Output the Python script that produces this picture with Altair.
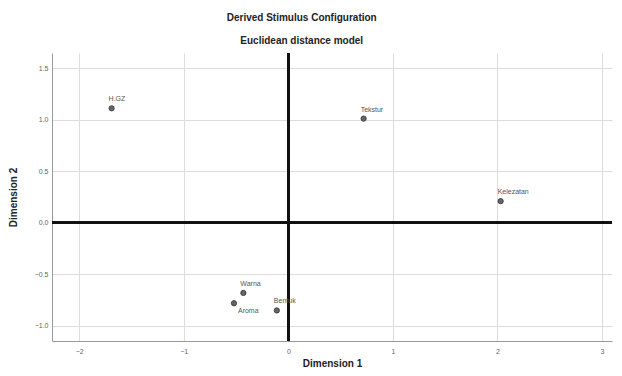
import altair as alt
import pandas as pd

labels = ["H.GZ", "Tekstur", "Kelezatan", "Warna", "Aroma", "Bentuk"]
dim1 = [-1.69, 0.72, 2.03, -0.43, -0.52, -0.11]
dim2 = [1.11, 1.01, 0.21, -0.68, -0.78, -0.85]

x_ticks = [-2, -1, 0, 1, 2, 3]
y_ticks = [-1.0, -0.5, 0.0, 0.5, 1.0, 1.5]

df = pd.DataFrame({"label": labels, "Dimension 1": dim1, "Dimension 2": dim2})

FONT = "Liberation Sans"

xs = alt.Scale(domain=[-2.26, 3.095], nice=False, zero=False)
ys = alt.Scale(domain=[-1.146, 1.646], nice=False, zero=False)

xax = alt.Axis(values=x_ticks, format="d", title="Dimension 1", grid=True,
               gridColor="#dcdcdc", domainColor="#9a9a9a", ticks=False,
               labelFontSize=7, labelColor="#666666", labelFont=FONT,
               titleFont=FONT, titleFontSize=10, titleFontWeight="bold",
               titleColor="#222222", titlePadding=4, labelPadding=6)
yax = alt.Axis(values=y_ticks, format=".1f", title="Dimension 2", grid=True,
               gridColor="#dcdcdc", domainColor="#9a9a9a", ticks=False,
               labelFontSize=7, labelColor="#666666", labelFont=FONT,
               titleFont=FONT, titleFontSize=10, titleFontWeight="bold",
               titleColor="#222222", titlePadding=16, labelPadding=4)

base = alt.Chart(df)

points = base.mark_circle(size=28, color="#666666", opacity=1,
                          stroke="#333333", strokeWidth=0.8).encode(
    x=alt.X("Dimension 1:Q", scale=xs, axis=xax),
    y=alt.Y("Dimension 2:Q", scale=ys, axis=yax),
)

text_above = base.transform_filter(alt.datum.label != "Aroma").mark_text(
    align="left", baseline="middle", dx=-3, dy=-9, fontSize=7,
    font=FONT, color="#555555").encode(
    x="Dimension 1:Q", y="Dimension 2:Q", text="label:N")

text_below = base.transform_filter(alt.datum.label == "Aroma").mark_text(
    align="left", baseline="middle", dx=4, dy=8, fontSize=7,
    font=FONT, color="#555555").encode(
    x="Dimension 1:Q", y="Dimension 2:Q", text="label:N")

vline = alt.Chart(df).mark_rule(color="#111111", strokeWidth=2.5).encode(
    x=alt.datum(0))
hline = alt.Chart(df).mark_rule(color="#111111", strokeWidth=2.5).encode(
    y=alt.datum(0))

chart = alt.layer(vline, hline, points, text_above, text_below).properties(
    width=606, height=360,
    autosize=alt.AutoSizeParams(type="fit", contains="padding"),
    title=alt.TitleParams(
        text="Derived Stimulus Configuration",
        subtitle="Euclidean distance model",
        font=FONT, fontSize=10, fontWeight="bold", color="#222222",
        subtitleFont=FONT, subtitleFontSize=10, subtitleFontWeight="bold",
        subtitleColor="#222222", subtitlePadding=13, anchor="middle",
        frame="bounds", offset=6, dx=-9),
    padding={"left": 0, "top": 4, "right": 0, "bottom": 0},
).configure_view(stroke=None)

chart.save("out.html", embed_options={"renderer": "svg", "actions": False})
